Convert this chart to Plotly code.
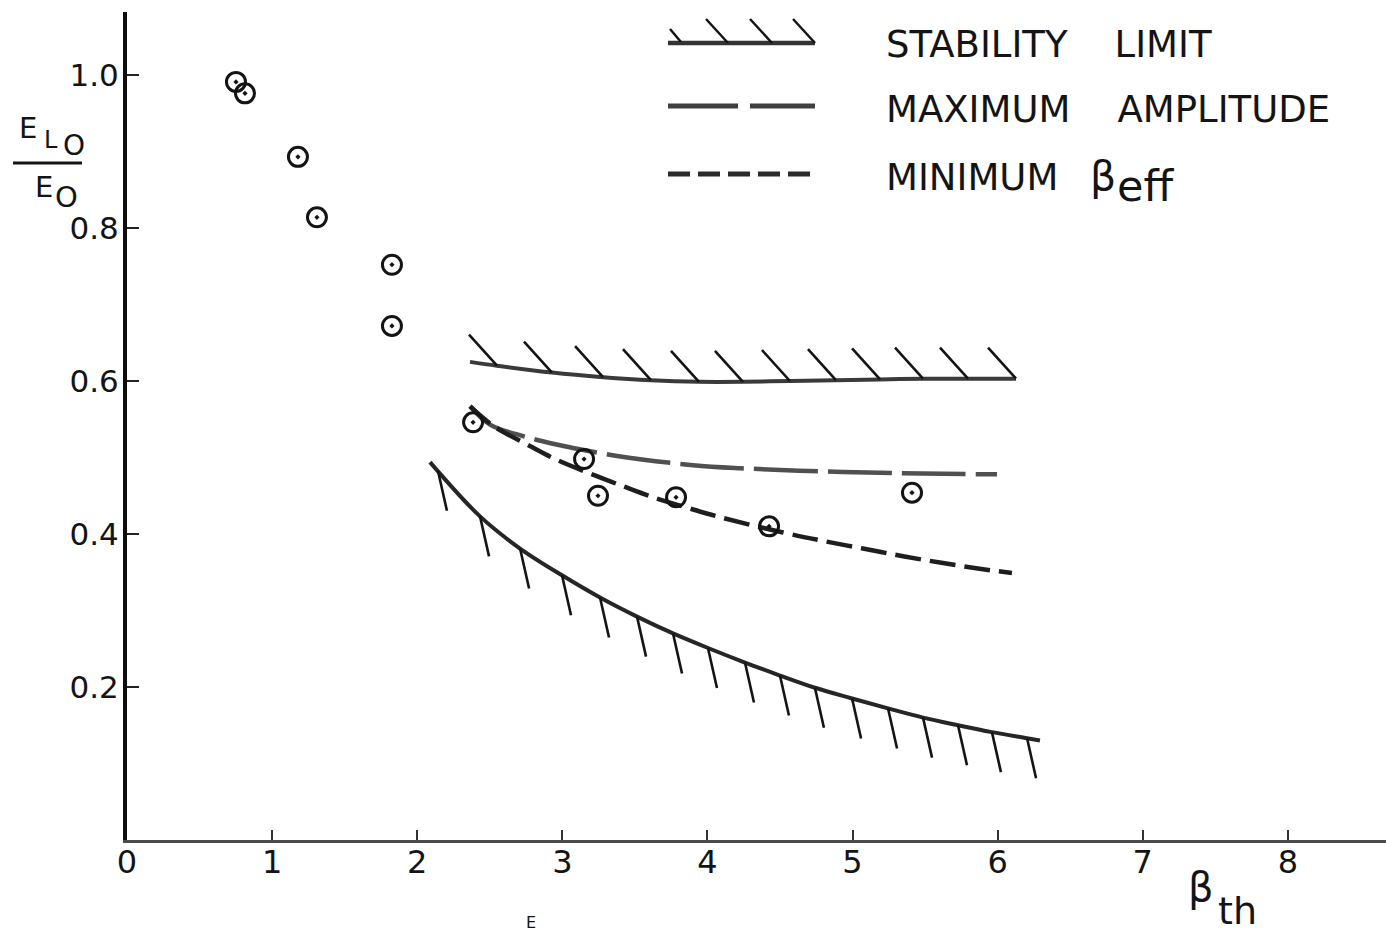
import numpy as np
import plotly.graph_objects as go

# ---------------- data ----------------
points_x = [0.751, 0.813, 1.178, 1.309, 1.826, 1.826, 2.385, 3.150, 3.246, 3.784, 4.425, 5.410]
points_y = [0.991, 0.976, 0.893, 0.814, 0.752, 0.672, 0.546, 0.498, 0.450, 0.448, 0.410, 0.454]

stab_upper_x = [2.364, 2.550, 2.929, 3.281, 3.611, 3.942, 4.245, 4.569, 4.886, 5.190, 5.486, 5.796, 6.127]
stab_upper_y = [0.625, 0.620, 0.611, 0.605, 0.601, 0.599, 0.599, 0.600, 0.601, 0.602, 0.603, 0.603, 0.603]

stab_lower_x = [2.088, 2.433, 2.709, 2.998, 3.260, 3.515, 3.763, 4.004, 4.259, 4.500, 4.741, 4.997,
                5.245, 5.486, 5.727, 5.961, 6.203, 6.292]
stab_lower_y = [0.494, 0.423, 0.381, 0.346, 0.317, 0.292, 0.270, 0.251, 0.232, 0.215, 0.199, 0.185,
                0.172, 0.160, 0.150, 0.141, 0.133, 0.130]

maxamp_x = [2.364, 2.502, 2.729, 2.936, 3.377, 3.901, 4.225, 4.934, 5.479, 5.996]
maxamp_y = [0.567, 0.543, 0.528, 0.518, 0.502, 0.490, 0.486, 0.481, 0.479, 0.478]

minbeta_x = [2.364, 2.520, 2.777, 2.950, 3.177, 3.411, 3.625, 3.866, 4.108, 4.521, 4.797, 5.072,
             5.348, 5.624, 5.899, 6.099]
minbeta_y = [0.567, 0.542, 0.515, 0.498, 0.480, 0.463, 0.448, 0.434, 0.421, 0.402, 0.391, 0.381,
             0.371, 0.362, 0.354, 0.349]

xtick_vals = [0, 1, 2, 3, 4, 5, 6, 7, 8]
xtick_text = ["0", "1", "2", "3", "4", "5", "6", "7", "8"]
ytick_vals = [0.2, 0.4, 0.6, 0.8, 1.0]
ytick_text = ["0.2", "0.4", "0.6", "0.8", "1.0"]

legend_labels = ["STABILITY    LIMIT", "MAXIMUM    AMPLITUDE", "MINIMUM"]

# ---------------- layout geometry ----------------
W, H = 1386, 935
ML, MR, MT, MB = 127, 0, 12, 95
PW, PH = W - ML - MR, H - MT - MB
XSCALE, YSCALE = 145.1, 765.0
XMAX = PW / XSCALE
YMAX = PH / YSCALE
FONT = "DejaVu Sans"
INK = "#141414"


def P(px, py):
    """pixel position -> paper coordinates"""
    return (px - ML) / PW, (H - MB - py) / PH


fig = go.Figure()


def hatch_trace(xs, ys, dx, dy):
    hx, hy = [], []
    for x, y in zip(xs, ys):
        hx += [x, x + dx, None]
        hy += [y, y + dy, None]
    return hx, hy


SMOOTH = 1.0

# upper stability limit
fig.add_trace(go.Scatter(x=stab_upper_x, y=stab_upper_y, mode="lines",
                         line=dict(color="#3a3a3a", width=4, shape="spline", smoothing=SMOOTH),
                         showlegend=False, hoverinfo="skip"))
ux = np.array(stab_upper_x[1:])
uy = np.interp(ux, stab_upper_x, stab_upper_y)
hx, hy = hatch_trace(ux, uy, -28 / XSCALE, 31 / YSCALE)
fig.add_trace(go.Scatter(x=hx, y=hy, mode="lines", line=dict(color=INK, width=2.6),
                         showlegend=False, hoverinfo="skip"))

# lower stability limit
fig.add_trace(go.Scatter(x=stab_lower_x, y=stab_lower_y, mode="lines",
                         line=dict(color="#262626", width=4, shape="spline", smoothing=SMOOTH),
                         showlegend=False, hoverinfo="skip"))
lx = np.array([stab_lower_x[0] + 0.055] + stab_lower_x[1:-1])
ly = np.interp(lx, stab_lower_x, stab_lower_y)
hx, hy = hatch_trace(lx, ly, 9 / XSCALE, -40 / YSCALE)
fig.add_trace(go.Scatter(x=hx, y=hy, mode="lines", line=dict(color=INK, width=2.6),
                         showlegend=False, hoverinfo="skip"))

# maximum amplitude (long dashes)
fig.add_trace(go.Scatter(x=maxamp_x, y=maxamp_y, mode="lines",
                         line=dict(color="#505050", width=4.5, dash="64px,10px",
                                   shape="spline", smoothing=SMOOTH),
                         showlegend=False, hoverinfo="skip"))

# minimum beta_eff (short dashes)
fig.add_trace(go.Scatter(x=minbeta_x, y=minbeta_y, mode="lines",
                         line=dict(color="#1e1e1e", width=4.5, dash="26px,9px",
                                   shape="spline", smoothing=SMOOTH),
                         showlegend=False, hoverinfo="skip"))

# experimental points
fig.add_trace(go.Scatter(x=points_x, y=points_y, mode="markers",
                         marker=dict(symbol="circle-open-dot", size=19,
                                     color=INK, line=dict(color=INK, width=3)),
                         showlegend=False, hoverinfo="skip"))

# ---------------- legend drawn by hand ----------------
shapes = []


def pline(x0, y0, x1, y1, color=INK, width=3, dash="solid"):
    a = P(x0, y0)
    b = P(x1, y1)
    shapes.append(dict(type="line", xref="paper", yref="paper",
                       x0=a[0], y0=a[1], x1=b[0], y1=b[1],
                       line=dict(color=color, width=width, dash=dash)))


pline(668, 43, 815, 43, color="#333333", width=4.5)
for (tx, ty, bx, by) in [(670, 29, 681, 42), (706, 19, 728, 43), (750, 19, 772, 43), (793, 19, 815, 43)]:
    pline(tx, ty, bx, by, width=2.5)
pline(668, 106, 815, 106, color="#404040", width=5, dash="70px,12px")
pline(668, 174, 815, 174, color="#2a2a2a", width=5, dash="22px,8px")

# y-axis title fraction bar
pline(13, 163, 82, 163, width=3)

annotations = []


def ptext(text, px, py, size, xanchor="center", yanchor="middle"):
    x, y = P(px, py)
    annotations.append(dict(text=text, x=x, y=y, xref="paper", yref="paper",
                            xanchor=xanchor, yanchor=yanchor, showarrow=False,
                            font=dict(family=FONT, size=size, color=INK)))


ptext(legend_labels[0], 884, 45, 37, xanchor="left")
ptext(legend_labels[1], 884, 110, 37, xanchor="left")
ptext(legend_labels[2], 884, 177, 37, xanchor="left")
ptext("β", 1088, 176, 41, xanchor="left")
ptext("eff", 1115, 186, 43, xanchor="left")

# y-axis title  E_Lo / E_o
ptext("E", 28, 128, 29)
ptext("L", 51, 140, 24)
ptext("O", 74, 145, 28)
ptext("E", 44, 187, 29)
ptext("O", 66.5, 197, 29)

# x-axis title  beta_th
ptext("β", 1201, 887, 40)
ptext("th", 1216, 911, 38, xanchor="left")

# partly visible caption letter at the bottom edge
ptext("E", 524, 934, 16, xanchor="left", yanchor="bottom")

fig.update_layout(
    width=W, height=H,
    margin=dict(l=ML, r=MR, t=MT, b=MB, pad=0),
    paper_bgcolor="white", plot_bgcolor="white",
    shapes=shapes, annotations=annotations,
    showlegend=False,
    xaxis=dict(range=[0, XMAX], showgrid=False, zeroline=False,
               showline=True, linecolor="#4a4a4a", linewidth=3,
               tickmode="array", tickvals=xtick_vals, ticktext=xtick_text,
               ticks="inside", ticklen=10, tickwidth=2, tickcolor="#333333",
               ticklabelstandoff=-8,
               tickfont=dict(family=FONT, size=32, color=INK)),
    yaxis=dict(range=[0, YMAX], showgrid=False, zeroline=False,
               showline=True, linecolor="#0d0d0d", linewidth=4,
               tickmode="array", tickvals=ytick_vals, ticktext=ytick_text,
               ticks="inside", ticklen=12, tickwidth=2, tickcolor="#222222",
               ticklabelstandoff=-2,
               tickfont=dict(family=FONT, size=31, color=INK)),
)

fig.write_html("out.html")
